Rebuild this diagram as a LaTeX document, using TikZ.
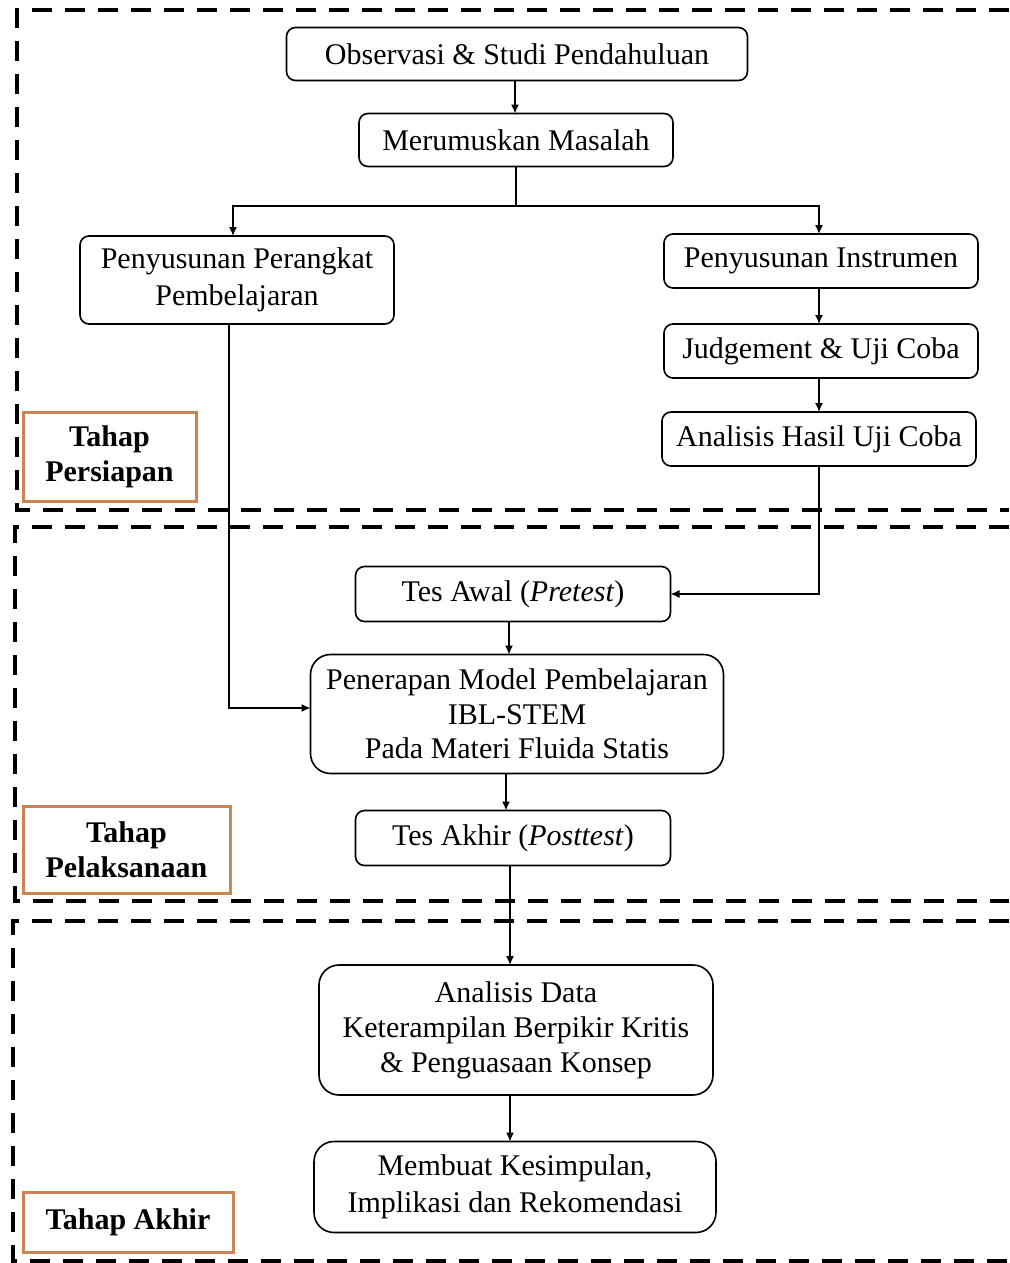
\documentclass[tikz,border=0pt]{standalone}
\usepackage{fontspec}
\setmainfont{Liberation Serif}
\usetikzlibrary{arrows.meta}
\definecolor{tahapcol}{RGB}{204,132,82}
\begin{document}
\begin{tikzpicture}[x=1pt,y=-1pt,
  every node/.style={inner sep=0pt,outer sep=0pt},
  box/.style={draw,line width=1.6pt,rounded corners=9pt,align=center,font=\fontsize{30}{37}\selectfont},
  bigbox/.style={box,rounded corners=20pt},
  tahap/.style={draw=tahapcol,line width=3pt,align=center,font=\fontsize{30}{35}\selectfont\bfseries},
  region/.style={line width=4pt,dash pattern=on 20pt off 13pt},
  conn/.style={line width=1.4pt,-{Latex[length=9pt,width=8pt]}},
  plain/.style={line width=1.4pt}]
\useasboundingbox (0,0) rectangle (1009,1263);
% regions
\draw[region] (1009,10) -- (17,10) -- (17,510) -- (1009,510);
\draw[region] (1009,527) -- (15,527) -- (15,901) -- (1009,901);
\draw[region] (1009,921) -- (13,921) -- (13,1261) -- (1009,1261);
% nodes
\node[box,minimum width=461pt,minimum height=53pt] (obs) at (517,54) {Observasi \& Studi Pendahuluan};
\node[box,minimum width=314pt,minimum height=53pt] (rum) at (516,140) {Merumuskan Masalah};
\node[box,minimum width=314pt,minimum height=88pt] (perangkat) at (237,280) {Penyusunan Perangkat\\Pembelajaran};
\node[box,minimum width=314pt,minimum height=54pt] (instr) at (821,261) {Penyusunan Instrumen};
\node[box,minimum width=314pt,minimum height=54pt] (judge) at (821,351) {Judgement \& Uji Coba};
\node[box,minimum width=314pt,minimum height=54pt] (anhasil) at (819,439) {Analisis Hasil Uji Coba};
\node[box,minimum width=315pt,minimum height=55pt] (pre) at (513,594) {Tes Awal (\textit{Pretest})};
\node[bigbox,minimum width=413pt,minimum height=119pt,font=\fontsize{30}{34.5}\selectfont] (pen) at (517,714) {Penerapan Model Pembelajaran\\IBL-STEM\\Pada Materi Fluida Statis};
\node[box,minimum width=315pt,minimum height=55pt] (post) at (513,838) {Tes Akhir (\textit{Posttest})};
\node[bigbox,minimum width=394pt,minimum height=130pt,font=\fontsize{30}{35}\selectfont] (andata) at (516,1030) {Analisis Data\\Keterampilan Berpikir Kritis\\\& Penguasaan Konsep};
\node[bigbox,minimum width=402pt,minimum height=91pt,font=\fontsize{30}{37}\selectfont] (simp) at (515,1187) {Membuat Kesimpulan,\\Implikasi dan Rekomendasi};
% tahap labels
\node[tahap,minimum width=173pt,minimum height=89pt] (t1) at (109.5,457) {Tahap\\Persiapan};
\node[tahap,minimum width=207pt,minimum height=87pt] (t2) at (126.5,850) {Tahap\\Pelaksanaan};
\node[tahap,minimum width=210pt,minimum height=60pt] (t3) at (128,1222) {Tahap Akhir};
% connectors
\draw[conn] (obs.south -| 515,0) -- (rum.north -| 515,0);
\coordinate (split) at (rum.south |- 0,206);
\draw[plain] (rum.south) -- (split);
\draw[conn] (split) -| (perangkat.north -| 233,0);
\draw[conn] (split) -| (instr.north -| 819,0);
\draw[conn] (instr.south -| 819,0) -- (judge.north -| 819,0);
\draw[conn] (judge.south -| 819,0) -- (anhasil.north -| 819,0);
\draw[conn] (anhasil.south -| 819,0) |- (pre.east);
\draw[conn] (perangkat.south -| 229,0) |- (pen.west |- 0,708);
\draw[conn] (pre.south -| 509,0) -- (pen.north -| 509,0);
\draw[conn] (pen.south -| 506,0) -- (post.north -| 506,0);
\draw[conn] (post.south -| 510,0) -- (andata.north -| 510,0);
\draw[conn] (andata.south -| 510,0) -- (simp.north -| 510,0);
\end{tikzpicture}
\end{document}
